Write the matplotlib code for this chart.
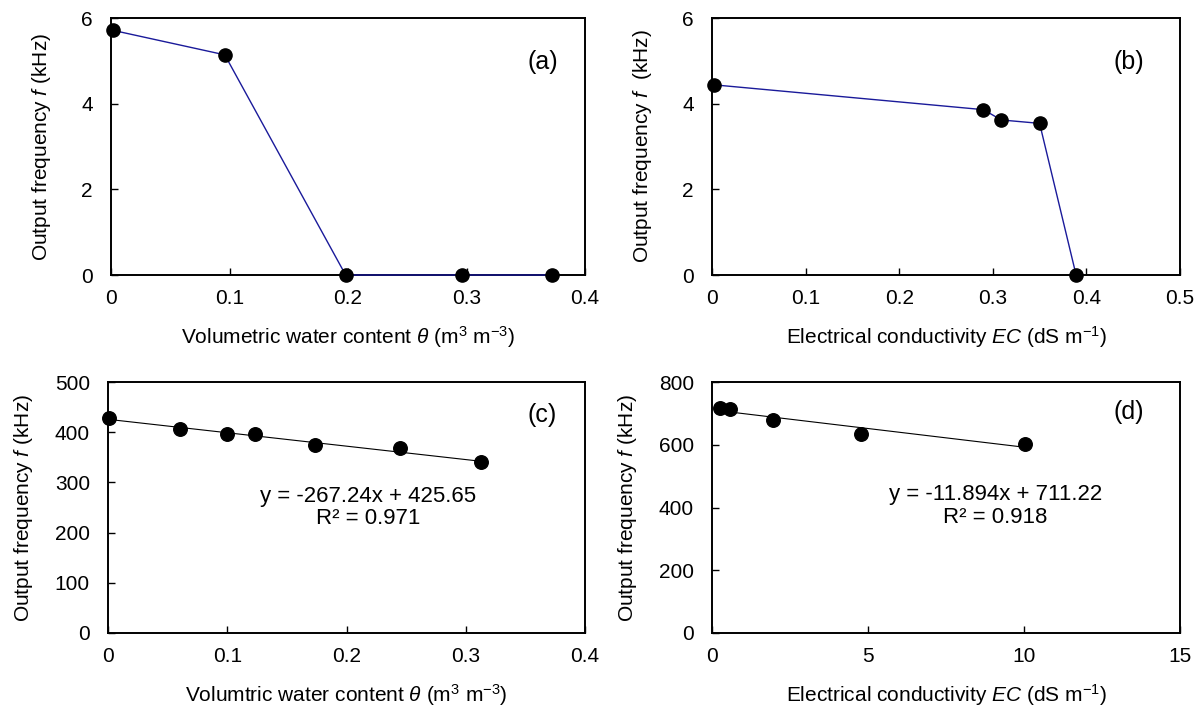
import matplotlib
matplotlib.use("Agg")
import matplotlib.pyplot as plt
import numpy as np

plt.rcParams['font.family'] = ['Liberation Sans', 'DejaVu Sans']
plt.rcParams['mathtext.fontset'] = 'custom'
plt.rcParams['mathtext.rm'] = 'Liberation Sans'
plt.rcParams['mathtext.it'] = 'Liberation Sans:italic'
plt.rcParams['mathtext.bf'] = 'Liberation Sans:bold'

# ---- data ----
a_theta = [0.002, 0.096, 0.198, 0.296, 0.372]
a_freq = [5.71, 5.14, 0.0, 0.0, 0.0]

b_ec = [0.002, 0.290, 0.309, 0.350, 0.389]
b_freq = [4.44, 3.86, 3.62, 3.54, 0.0]

c_theta = [0.001, 0.060, 0.100, 0.123, 0.174, 0.245, 0.313]
c_freq = [429, 406, 396, 397, 375, 368, 340]
c_slope, c_int, c_r2 = -267.24, 425.65, 0.971

d_ec = [0.27, 0.58, 1.94, 4.79, 10.03]
d_freq = [717, 713, 680, 633, 603]
d_slope, d_int, d_r2 = -11.894, 711.22, 0.918

a_xticks = [0, 0.1, 0.2, 0.3, 0.4]
a_xlabels = ['0', '0.1', '0.2', '0.3', '0.4']
a_yticks = [0, 2, 4, 6]
b_xticks = [0, 0.1, 0.2, 0.3, 0.4, 0.5]
b_xlabels = ['0', '0.1', '0.2', '0.3', '0.4', '0.5']
c_yticks = [0, 100, 200, 300, 400, 500]
d_xticks = [0, 5, 10, 15]
d_yticks = [0, 200, 400, 600, 800]

W, H = 1197, 713
fig = plt.figure(figsize=(W / 100, H / 100), dpi=100)

def px_axes(l, t, r, b):
    return fig.add_axes([l / W, 1 - b / H, (r - l) / W, (b - t) / H])

FS = 15
LFS = 15

def style(ax):
    for s in ax.spines.values():
        s.set_linewidth(1.4)
        s.set_color('black')
    ax.tick_params(direction='in', length=5, width=1.0, labelsize=FS,
                   colors='black')
    ax.tick_params(axis='x', pad=10)
    ax.tick_params(axis='y', pad=13)

axa = px_axes(111, 18, 585, 275)
axb = px_axes(712, 18, 1180, 275)
axc = px_axes(108, 382, 585, 633)
axd = px_axes(712, 382, 1180, 633)
for ax in (axa, axb, axc, axd):
    style(ax)

# (a)
axa.plot(a_theta, a_freq, color='#1a1a9a', lw=1.0, marker='o', ms=9.5,
         mfc='black', mec='black', clip_on=False, zorder=3)
axa.set_xlim(0, 0.4)
axa.set_ylim(0, 6)
axa.set_xticks(a_xticks)
axa.set_xticklabels(a_xlabels)
axa.set_yticks(a_yticks)
axa.set_xlabel(r'Volumetric water content $\it{\theta}$ (m$^{3}$ m$^{-3}$)', fontsize=LFS, labelpad=12)
axa.set_ylabel(r'Output frequency $\it{f}$ (kHz)', fontsize=LFS, labelpad=20)
axa.text(0.91, 0.83, '(a)', transform=axa.transAxes, fontsize=18, ha='center', va='center')

# (b)
axb.plot(b_ec, b_freq, color='#1a1a9a', lw=1.0, marker='o', ms=9.5,
         mfc='black', mec='black', clip_on=False, zorder=3)
axb.set_xlim(0, 0.5)
axb.set_ylim(0, 6)
axb.set_xticks(b_xticks)
axb.set_xticklabels(b_xlabels)
axb.set_yticks(a_yticks)
axb.set_xlabel(r'Electrical conductivity $\it{EC}$ (dS m$^{-1}$)', fontsize=LFS, labelpad=12)
axb.set_ylabel(r'Output frequency $\it{f}$  (kHz)', fontsize=LFS, labelpad=20)
axb.text(0.89, 0.83, '(b)', transform=axb.transAxes, fontsize=18, ha='center', va='center')

# (c)
axc.scatter(c_theta, c_freq, s=95, color='black', zorder=3, clip_on=False)
cx = np.array([0.0, max(c_theta)])
axc.plot(cx, c_slope * cx + c_int, color='black', lw=0.8)
axc.set_xlim(0, 0.4)
axc.set_ylim(0, 500)
axc.set_xticks(a_xticks)
axc.set_xticklabels(a_xlabels)
axc.set_yticks(c_yticks)
axc.set_xlabel(r'Volumtric water content $\it{\theta}$ (m$^{3}$ m$^{-3}$)', fontsize=LFS, labelpad=12)
axc.set_ylabel(r'Output frequency $\it{f}$ (kHz)', fontsize=LFS, labelpad=14)
axc.text(0.546, 0.5, f'y = {c_slope}x + {c_int}\nR² = {c_r2}', transform=axc.transAxes,
         fontsize=16, ha='center', va='center', linespacing=1.1)
axc.text(0.91, 0.87, '(c)', transform=axc.transAxes, fontsize=18, ha='center', va='center')

# (d)
axd.scatter(d_ec, d_freq, s=95, color='black', zorder=3, clip_on=False)
dx = np.array([min(d_ec), max(d_ec)])
axd.plot(dx, d_slope * dx + d_int, color='black', lw=0.8)
axd.set_xlim(0, 15)
axd.set_ylim(0, 800)
axd.set_xticks(d_xticks)
axd.set_yticks(d_yticks)
axd.set_xlabel(r'Electrical conductivity $\it{EC}$ (dS m$^{-1}$)', fontsize=LFS, labelpad=12)
axd.set_ylabel(r'Output frequency $\it{f}$ (kHz)', fontsize=LFS, labelpad=14)
axd.text(0.605, 0.505, f'y = {d_slope}x + {d_int}\nR² = {d_r2}', transform=axd.transAxes,
         fontsize=16, ha='center', va='center', linespacing=1.1)
axd.text(0.89, 0.88, '(d)', transform=axd.transAxes, fontsize=18, ha='center', va='center')

fig.savefig('out.png', dpi=100, facecolor='white')
